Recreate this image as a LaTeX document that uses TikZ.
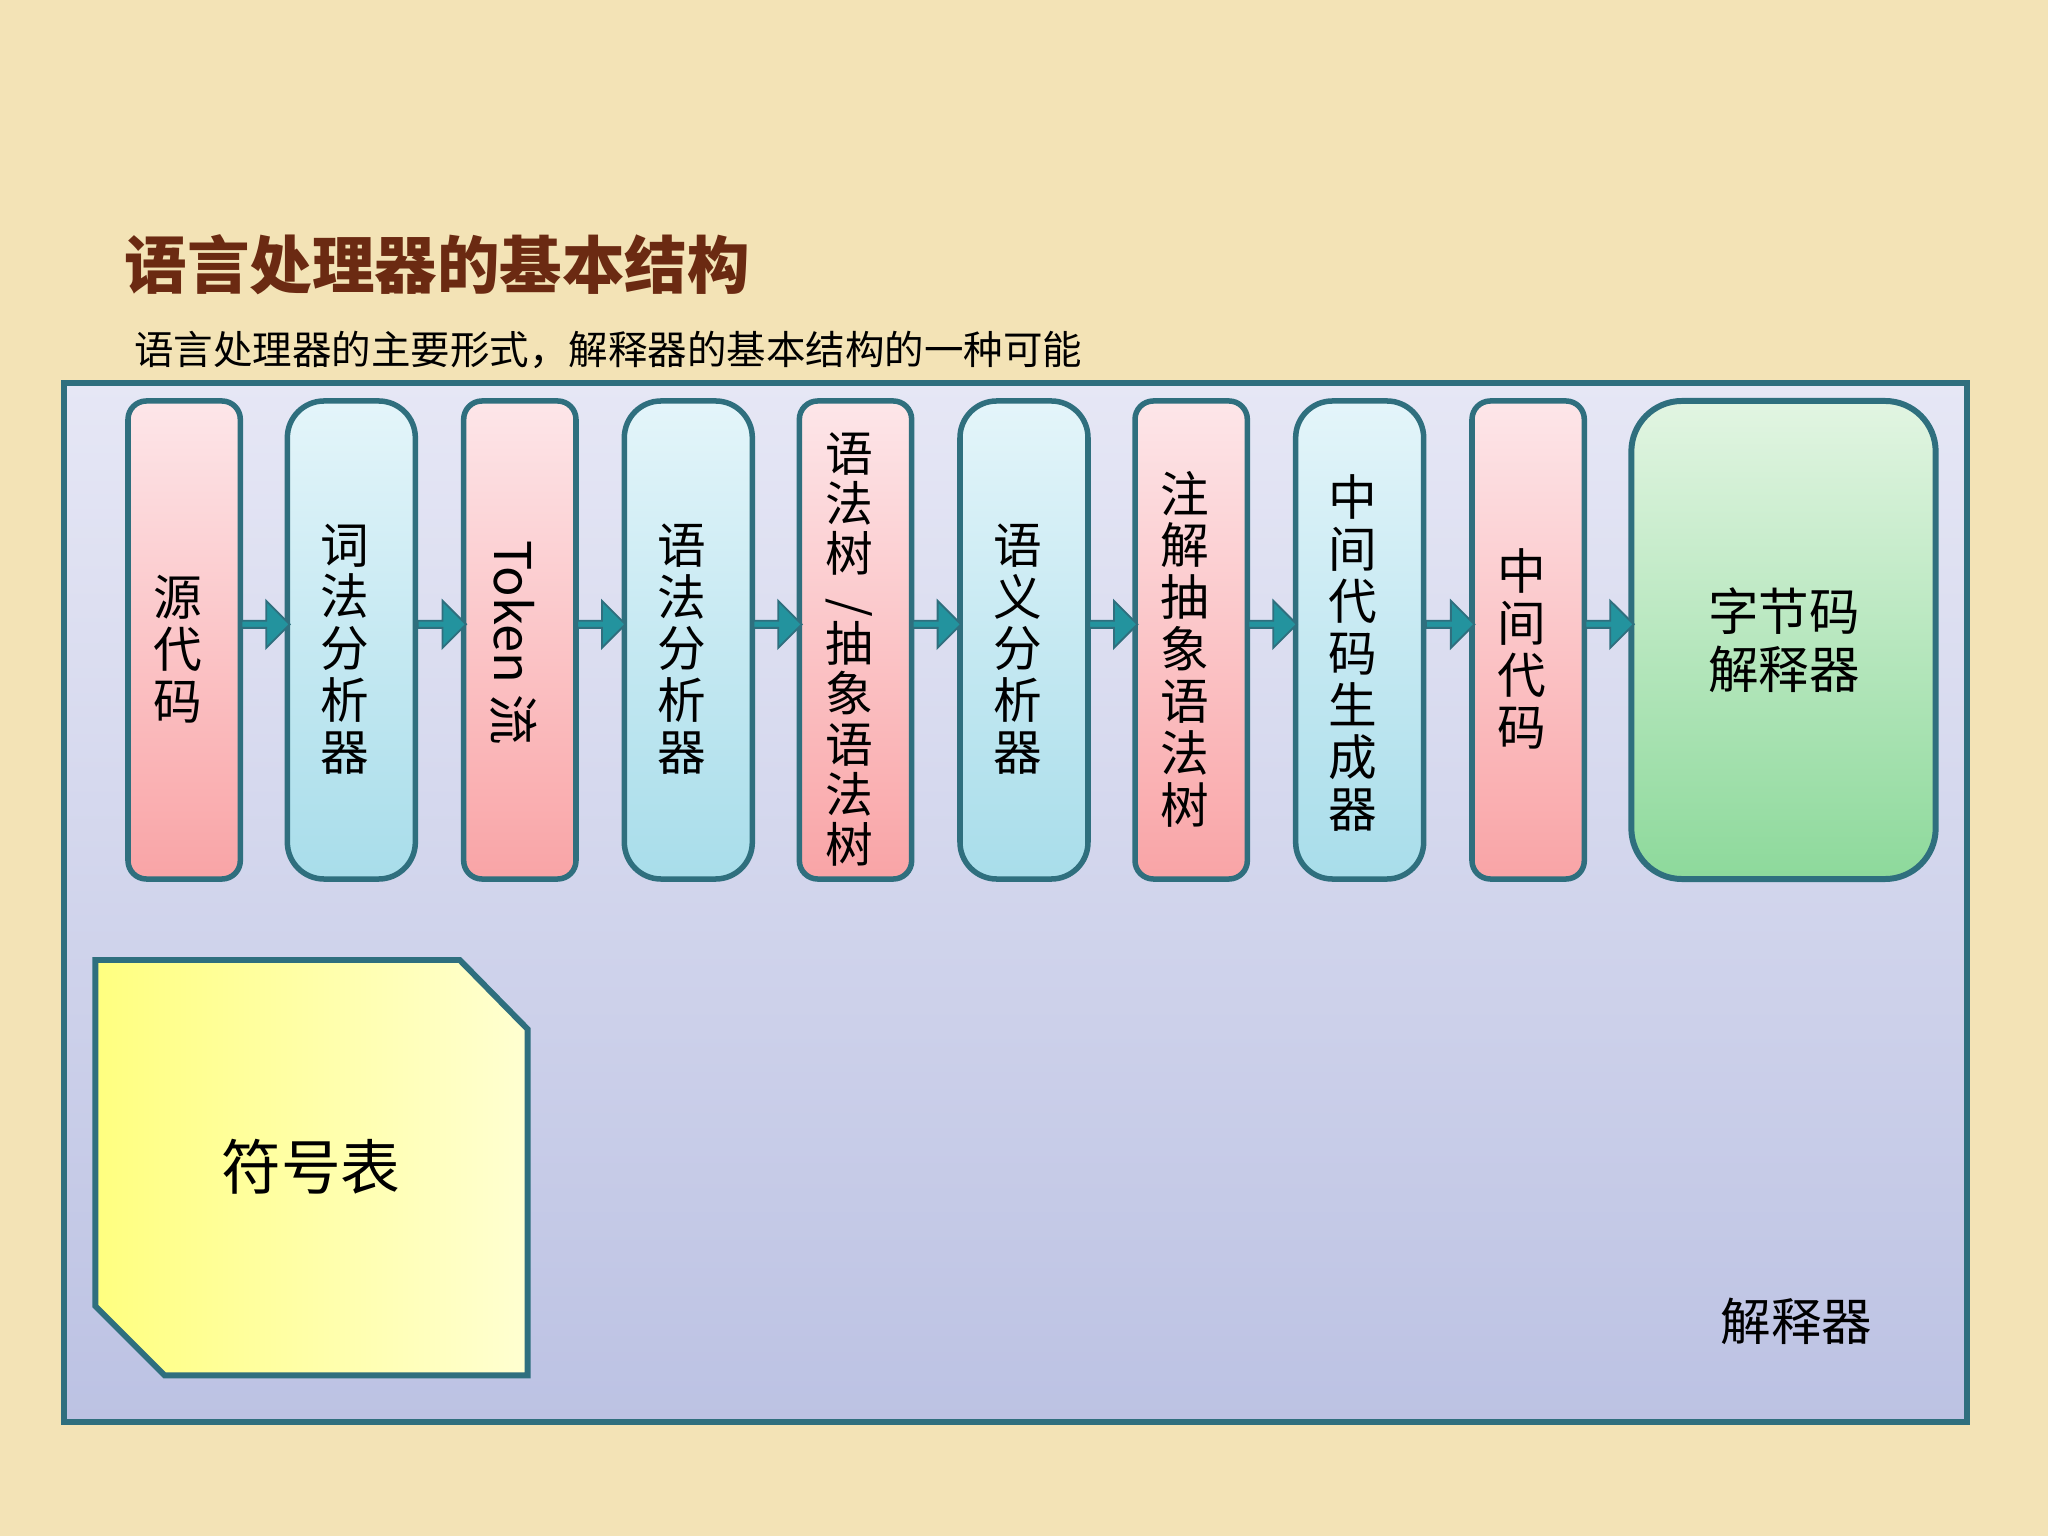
\documentclass[tikz,border=0pt]{standalone}
\usepackage{fontspec}
\setmainfont{Noto Sans CJK SC}
\usetikzlibrary{shapes.arrows}
\definecolor{bg}{HTML}{F3E3B6}
\definecolor{edge}{HTML}{2F6F7E}
\definecolor{titlec}{HTML}{6B2A12}
\definecolor{pinkT}{HTML}{FDE6E9}
\definecolor{pinkB}{HTML}{F9A4A6}
\definecolor{blueT}{HTML}{E4F5FA}
\definecolor{blueB}{HTML}{A8DDEA}
\definecolor{greenT}{HTML}{E2F5E2}
\definecolor{greenB}{HTML}{8DD99B}
\definecolor{outT}{HTML}{E6E7F5}
\definecolor{outB}{HTML}{BCC2E3}
\tikzset{
 vt/.style={font=\fontsize{10.6}{11.3}\selectfont,align=center},
 pinkbox/.style={draw=edge,line width=1.2pt,rounded corners=4pt,top color=pinkT,bottom color=pinkB},
 bluebox/.style={draw=edge,line width=1.2pt,rounded corners=8pt,top color=blueT,bottom color=blueB},
 arr/.style={single arrow,fill=edge!75!cyan,draw=edge,minimum height=0.37cm,minimum width=0.36cm,single arrow head extend=0.04cm,inner sep=0pt}
}
\begin{document}
\begin{tikzpicture}[x=0.01cm,y=-0.01cm]
\fill[bg] (0,0) rectangle (1568,1176);
\node[anchor=west,inner sep=0pt,text=titlec,font=\fontsize{13.6}{16}\selectfont\bfseries] (title) at (95,203) {语言处理器的基本结构};
\node[anchor=west,inner sep=0pt,font=\fontsize{8.6}{10}\selectfont] (sub) at (102,268) {语言处理器的主要形式，解释器的基本结构的一种可能};
\draw[edge,line width=1.3pt,top color=outT,bottom color=outB] (49,293) rectangle (1506,1089);
\node[anchor=west,font=\fontsize{11}{13}\selectfont] (interp) at (1305,1012) {解释器};
% boxes
\draw[pinkbox] (98,307) rectangle (184,673);
\node[vt] (b1) at (136,497) {源\\代\\码};
\draw[bluebox] (220,307) rectangle (318,673);
\node[vt] (b2) at (264,497) {词\\法\\分\\析\\器};
\draw[pinkbox] (355,307) rectangle (441,673);
\node[vt,rotate=-90,font=\fontsize{11}{12}\selectfont] (b3) at (393,492) {Token 流};
\draw[bluebox] (478,307) rectangle (576,673);
\node[vt] (b4) at (522,497) {语\\法\\分\\析\\器};
\draw[pinkbox] (612,307) rectangle (698,673);
\node[vt,font=\fontsize{10.4}{10.9}\selectfont] (b5) at (650,497) {语\\法\\树\\[-5pt]\rotatebox{-90}{/}\\抽\\象\\语\\法\\树};
\draw[bluebox] (735,307) rectangle (833,673);
\node[vt] (b6) at (779,497) {语\\义\\分\\析\\器};
\draw[pinkbox] (869,307) rectangle (955,673);
\node[vt] (b7) at (907,497) {注\\解\\抽\\象\\语\\法\\树};
\draw[bluebox] (992,307) rectangle (1090,673);
\node[vt] (b8) at (1036,500) {中\\间\\代\\码\\生\\成\\器};
\draw[pinkbox] (1127,307) rectangle (1213,673);
\node[vt] (b9) at (1165,497) {中\\间\\代\\码};
\draw[draw=edge,line width=1.3pt,rounded corners=11pt,top color=greenT,bottom color=greenB] (1249,307) rectangle (1482,673);
\node[font=\fontsize{11}{12.5}\selectfont,align=center] (b10) at (1366,490) {字节码\\解释器};
% arrows
\foreach \x in {202,337,459,594,716,851,973,1109,1231}
  \node[arr] at (\x,478) {};
% symbol table
\draw[edge,line width=1.3pt,left color=yellow!50!white,right color=yellow!18!white] (73,735)--(352,735)--(404,788)--(404,1053)--(126,1053)--(73,1000)--cycle;
\node[font=\fontsize{13}{15}\selectfont] (sym) at (238,893) {符号表};
\end{tikzpicture}
\end{document}
